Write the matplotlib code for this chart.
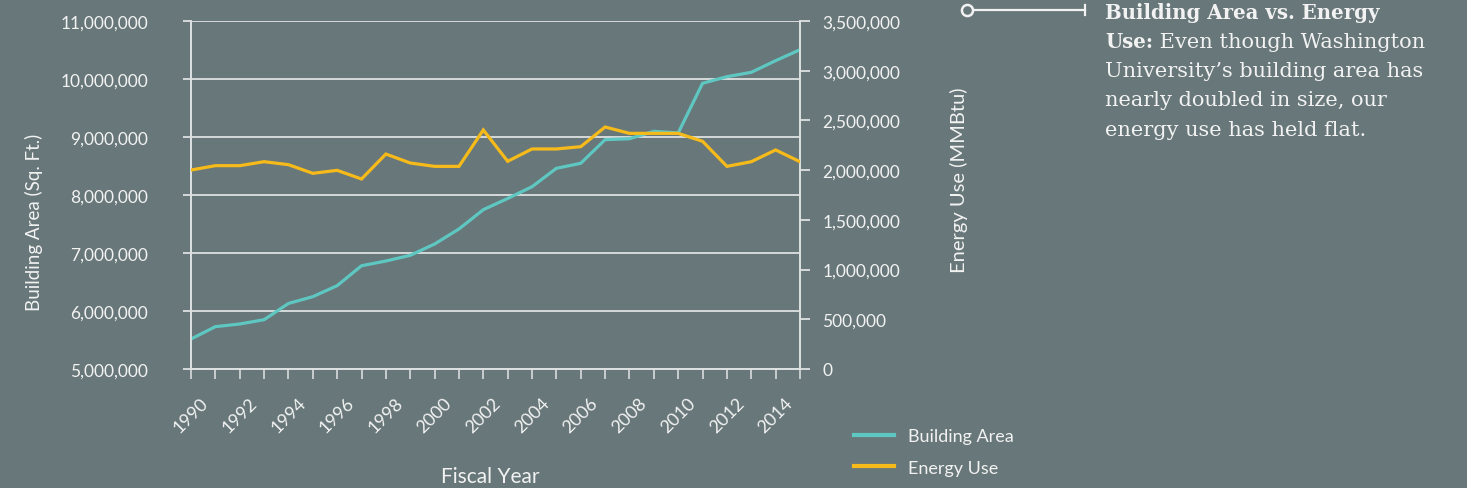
import matplotlib.pyplot as plt
import matplotlib.ticker as mticker
import matplotlib.transforms as mtransforms
from matplotlib.lines import Line2D

# Data
years = list(range(1990, 2016))
building_area = [5517000, 5730000, 5776000, 5850000, 6130000, 6247000, 6437000, 6780000,
                 6862000, 6960000, 7155000, 7414000, 7747000, 7940000, 8143000, 8460000,
                 8547000, 8954000, 8970000, 9098000, 9070000, 9926000, 10040000, 10115000,
                 10316000, 10505000]
energy_use = [2001000, 2045000, 2045000, 2085000, 2055000, 1968000, 1998000, 1911000,
              2162000, 2072000, 2038000, 2038000, 2404000, 2089000, 2213000, 2213000,
              2236000, 2434000, 2370000, 2370000, 2370000, 2290000, 2038000, 2085000,
              2203000, 2085000]
tick_years = list(range(1990, 2015, 2))

bg = '#687779'
teal = '#5fc7c1'
gold = '#f6bb1a'
txt = '#f2f2f2'
grid_c = '#e8eaea'

plt.rcParams['font.family'] = ['Lato', 'DejaVu Sans']

fig = plt.figure(figsize=(14.67, 4.89), dpi=100, facecolor=bg)
ax = fig.add_axes([191 / 1467, 1 - 370 / 489, 609 / 1467, 348 / 489])
ax.set_facecolor(bg)
ax2 = ax.twinx()

ax.plot(years, building_area, color=teal, lw=2.3, solid_joinstyle='miter', zorder=3)
ax2.plot(years, energy_use, color=gold, lw=2.3, solid_joinstyle='miter', zorder=3)

ax.set_xlim(1990, 2015)
ax.set_ylim(5000000, 11000000)
ax2.set_ylim(0, 3500000)

ax.set_yticks(range(5000000, 11000001, 1000000))
ax2.set_yticks(range(0, 3500001, 500000))
fmt = mticker.FuncFormatter(lambda v, p: f'{int(v):,}')
ax.yaxis.set_major_formatter(fmt)
ax2.yaxis.set_major_formatter(fmt)

ax.set_xticks(years, minor=True)
ax.set_xticks(tick_years)
ax.set_xticklabels([str(y) for y in tick_years], rotation=45, ha='center')
shift = mtransforms.ScaledTranslation(-5 / 100, 0, fig.dpi_scale_trans)
for lab in ax.get_xticklabels():
    lab.set_transform(lab.get_transform() + shift)
ax.tick_params(axis='x', which='both', length=7, color='#d8dcdc', width=1.2,
               labelsize=13, labelcolor=txt, pad=11)
ax.tick_params(axis='y', length=6, color=grid_c, width=1.2, labelsize=12.5,
               labelcolor=txt, pad=25)
ax2.tick_params(axis='y', length=7, color=grid_c, width=1.2, labelsize=12.5,
                labelcolor=txt, pad=9)

ax.yaxis.grid(True, color=grid_c, lw=1.2)
ax.set_axisbelow(True)

for a in (ax, ax2):
    a.spines['top'].set_visible(False)
    for s in ('left', 'right', 'bottom'):
        a.spines[s].set_color('#dfe2e2')
        a.spines[s].set_linewidth(1.2)

ax.set_ylabel('Building Area (Sq. Ft.)', color=txt, fontsize=13.5)
ax.yaxis.set_label_coords(-0.243, 0.425)
ax2.set_ylabel('Energy Use (MMBtu)', color=txt, fontsize=14.5)
ax2.yaxis.set_label_coords(1.246, 0.546)
ax.set_xlabel('Fiscal Year', color=txt, fontsize=15)
ax.xaxis.set_label_coords(0.491, -0.279)

# Legend
handles = [Line2D([], [], color=teal, lw=3), Line2D([], [], color=gold, lw=3)]
fig.legend(handles, ['Building Area', 'Energy Use'], loc='upper left',
           bbox_to_anchor=(838 / 1467, 1 - 413 / 489), frameon=False,
           fontsize=13, labelcolor=txt, handlelength=2.2, handletextpad=0.75,
           labelspacing=0.85)

# Annotation callout
fig.add_artist(Line2D([967 / 1467, 1085 / 1467], [1 - 11 / 489, 1 - 11 / 489],
                      color=txt, lw=1.6, transform=fig.transFigure))
fig.add_artist(Line2D([1085 / 1467, 1085 / 1467], [1 - 6 / 489, 1 - 16 / 489],
                      color=txt, lw=1.6, transform=fig.transFigure))
fig.add_artist(Line2D([967 / 1467], [1 - 11 / 489], marker='o', ms=8,
                      mfc=bg, mec=txt, mew=1.8, transform=fig.transFigure))

serif = ['DejaVu Serif']
tx = 1105 / 1467
step = 29.5
fig.text(tx, 1 - 3 / 489, 'Building Area vs. Energy', fontsize=14.2, fontweight='bold',
         family=serif, color=txt, va='top')
use = fig.text(tx, 1 - (3 + step) / 489, 'Use:', fontsize=14.2, fontweight='bold',
               family=serif, color=txt, va='top')
fig.canvas.draw()
bb = use.get_window_extent()
fig.text(bb.x1 / fig.bbox.width, 1 - (3 + step) / 489, ' Even though Washington',
         fontsize=15, family=serif, color=txt, va='top')
rest = ['University\u2019s building area has', 'nearly doubled in size, our',
        'energy use has held flat.']
for i, line in enumerate(rest):
    fig.text(tx, 1 - (3 + step * (i + 2)) / 489, line, fontsize=15, family=serif,
             color=txt, va='top')

fig.savefig('out.png', dpi=100, facecolor=bg)
